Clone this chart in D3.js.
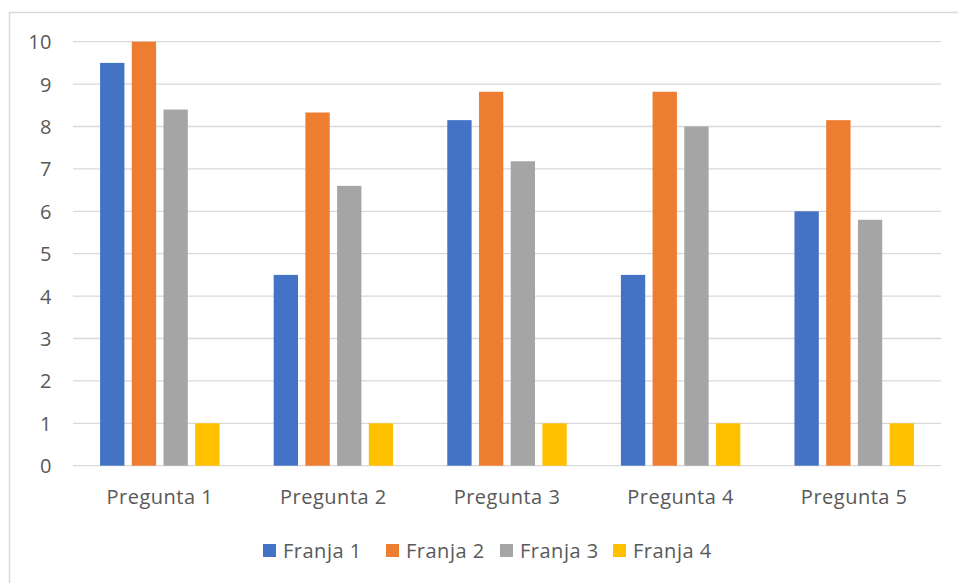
<!DOCTYPE html>
<html>
<head>
<meta charset="utf-8">
<script src="https://cdn.jsdelivr.net/npm/d3@7"></script>
<style>
  html, body { margin: 0; padding: 0; background: #fff; }
  svg { display: block; }
  text { font-family: "Open Sans", "Noto Sans", sans-serif; fill: #595959; letter-spacing: 0.5px; }
</style>
</head>
<body>
<svg id="chart" width="958" height="583"></svg>
<script>
const categories = ["Pregunta 1", "Pregunta 2", "Pregunta 3", "Pregunta 4", "Pregunta 5"];
const seriesNames = ["Franja 1", "Franja 2", "Franja 3", "Franja 4"];
const franja1 = [9.5, 4.5, 8.15, 4.5, 6.0];
const franja2 = [10, 8.33, 8.82, 8.82, 8.15];
const franja3 = [8.4, 6.6, 7.18, 8.0, 5.8];
const franja4 = [1, 1, 1, 1, 1];
const colors = ["#4472C4", "#ED7D31", "#A5A5A5", "#FFC000"];
const yTicks = [0, 1, 2, 3, 4, 5, 6, 7, 8, 9, 10];

const seriesValues = [franja1, franja2, franja3, franja4];
const FS = 20;

const svg = d3.select("#chart");

// outer frame (only top and left visible in crop)
svg.append("rect")
  .attr("x", 9.5).attr("y", 12.5)
  .attr("width", 1000).attr("height", 1000)
  .attr("fill", "none").attr("stroke", "#d9d9d9").attr("stroke-width", 1.5);

const plot = { left: 73, right: 941, top: 41.7, bottom: 465.7 };

const y = d3.scaleLinear().domain([0, 10]).range([plot.bottom, plot.top]);
const x0 = d3.scaleBand().domain(categories)
  .range([plot.left, plot.right])
  .paddingInner(0.312).paddingOuter(0.156);
const x1 = d3.scaleBand().domain(seriesNames)
  .range([0, x0.bandwidth()])
  .paddingInner(0.233).paddingOuter(0);

// gridlines
svg.append("g").selectAll("line")
  .data(yTicks)
  .join("line")
  .attr("x1", plot.left).attr("x2", plot.right)
  .attr("y1", d => y(d)).attr("y2", d => y(d))
  .attr("stroke", "#d9d9d9").attr("stroke-width", 1.3);

// y axis labels
const yAxis = d3.axisLeft(y).tickValues(yTicks).tickSize(0).tickPadding(0).tickFormat(d3.format("d"));
const yg = svg.append("g").attr("transform", `translate(${plot.left - 21},0)`).call(yAxis);
yg.attr("font-size", null).attr("font-family", null);
yg.select(".domain").remove();
yg.selectAll("text")
  .style("font-size", FS + "px")
  .attr("fill", "#595959").attr("dy", "0.35em");

// bars
const groups = svg.append("g").selectAll("g")
  .data(categories)
  .join("g")
  .attr("transform", d => `translate(${x0(d)},0)`);

groups.selectAll("rect")
  .data((c, i) => seriesNames.map((s, j) => ({ s, v: seriesValues[j][i], j })))
  .join("rect")
  .attr("x", d => x1(d.s))
  .attr("width", x1.bandwidth())
  .attr("y", d => y(d.v))
  .attr("height", d => y(0) - y(d.v))
  .attr("fill", d => colors[d.j]);

// x axis labels
const xAxis = d3.axisBottom(x0).tickSize(0).tickPadding(0);
const xg = svg.append("g").attr("transform", `translate(0,${plot.bottom + 24})`).call(xAxis);
xg.attr("font-size", null).attr("font-family", null);
xg.select(".domain").remove();
xg.selectAll("text")
  .style("font-size", FS + "px")
  .attr("fill", "#595959").attr("dy", "0.71em");

// legend
const legend = svg.append("g");
const legendX = [263, 386, 500, 613];
const legendY = 544;
seriesNames.forEach((s, i) => {
  const g = legend.append("g").attr("transform", `translate(${legendX[i]},${legendY})`);
  g.append("rect").attr("width", 13).attr("height", 13).attr("fill", colors[i]);
  g.append("text").attr("x", 20).attr("y", 14)
    .style("font-size", FS + "px").text(s);
});
</script>
</body>
</html>
